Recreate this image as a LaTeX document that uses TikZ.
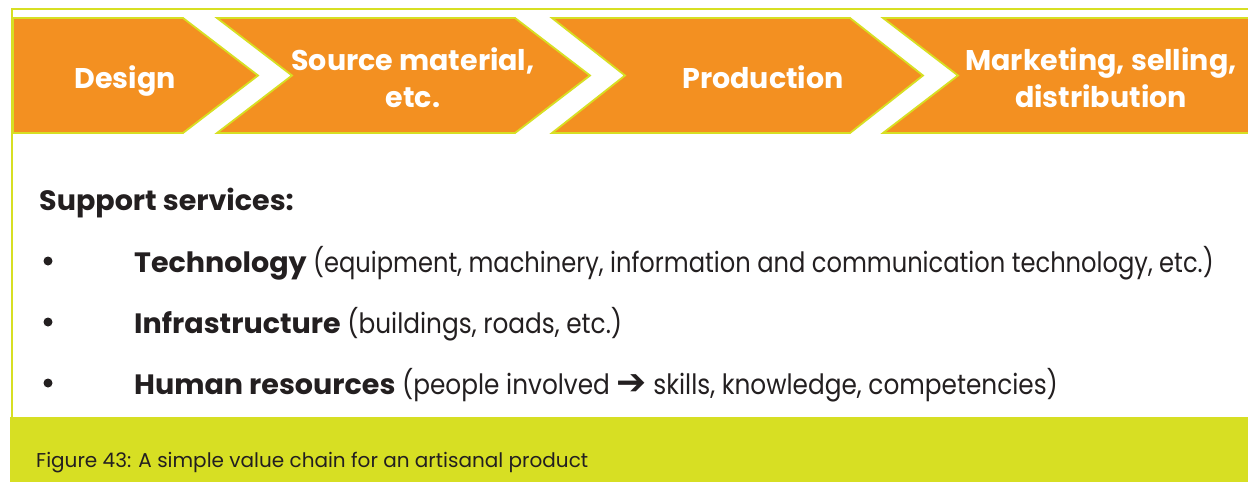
\documentclass[tikz,border=0pt]{standalone}
\usepackage{fontspec}
\setmainfont[FakeStretch=0.885, BoldFeatures={FakeStretch=1.02}]{Poppins}
\newfontfamily\techfont[FakeStretch=0.863, BoldFeatures={FakeStretch=1.02}]{Poppins}
\newfontfamily\chevfont{Poppins}
\newfontfamily\symfont{DejaVu Sans}
\definecolor{chevorange}{HTML}{F39021}
\definecolor{limegreen}{HTML}{D7DF23}
\definecolor{ink}{HTML}{231F20}
\begin{document}
\begin{tikzpicture}[x=1pt,y=-1pt,
  chev/.style={fill=chevorange, draw=limegreen, line width=1.8pt, line join=miter},
  chevtext/.style={text=white, inner sep=0pt, align=center, font=\chevfont\fontsize{28.5}{37}\selectfont\bfseries},
  bodytext/.style={anchor=base west, inner sep=0pt, text=ink, font=\fontsize{28}{34}\selectfont},
  bulletdot/.style={circle, fill=ink, inner sep=0pt, minimum size=9pt},
  captext/.style={anchor=base west, inner sep=0pt, text=ink, font=\chevfont\fontsize{20}{24}\selectfont}]
\useasboundingbox (0,0) rectangle (1248,482);
\fill[white] (0,0) rectangle (1248,482);
% frame
\draw[limegreen, line width=2pt] (12,482) -- (12,8.5) -- (1252,8.5);
% chevrons
\path[chev] (13,18) -- (183,18) -- (258,75.5) -- (183,133) -- (13,133) -- cycle;
\path[chev] (217,18) -- (515,18) -- (590,75.5) -- (515,133) -- (217,133) -- (292,75.5) -- cycle;
\path[chev] (552,18) -- (850,18) -- (923,75.5) -- (850,133) -- (552,133) -- (625,75.5) -- cycle;
\path[chev] (883,18) -- (1260,18) -- (1260,133) -- (883,133) -- (958,75.5) -- cycle;
\node[chevtext, anchor=base] (design) at (125,88) {Design};
\node[chevtext] (source) at (413,78) {Source material,\\etc.};
\node[chevtext, anchor=base] (production) at (763,88) {Production};
\node[chevtext] (marketing) at (1101,78) {Marketing, selling,\\distribution};
% support services
\node[bodytext] (support) at (39,210) {\bfseries Support services:};
\node[bulletdot] (b1) at (48,261) {};
\node[bulletdot] (b2) at (48,322) {};
\node[bulletdot] (b3) at (48,383) {};
\node[bodytext] (tech) at (134,272) {\techfont\textbf{Technology} (equipment, machinery, information and communication technology, etc.)};
\node[bodytext] (infra) at (134,333) {\textbf{Infrastructure} (buildings, roads, etc.)};
\node[bodytext] (human) at (134,394) {\textbf{Human resources} (people involved {\symfont\fontsize{36}{36}\selectfont ➔} skills, knowledge, competencies)};
% caption band
\fill[limegreen] (10,417) rectangle (1248,482);
\node[captext] (caption) at (36,467) {Figure 43: A simple value chain for an artisanal product};
\end{tikzpicture}
\end{document}
